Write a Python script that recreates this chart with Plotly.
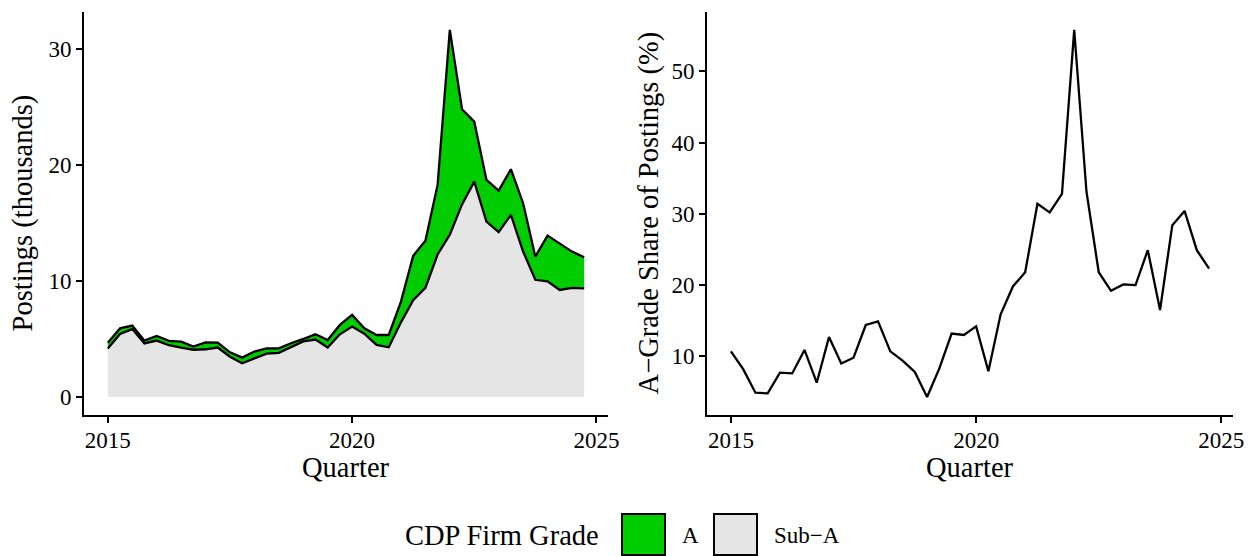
import plotly.graph_objects as go

# ---------------- data ----------------
years = list(range(2015, 2025))
quarter_labels = [f"{y} Q{q}" for y in years for q in (1, 2, 3, 4)]
quarter_x = [y + (q - 1) / 4 for y in years for q in (1, 2, 3, 4)]

# Postings, thousands
sub_a_postings = [
    4.18, 5.43, 5.85, 4.62, 4.86, 4.46, 4.25, 4.07, 4.11, 4.26,
    3.47, 2.90, 3.33, 3.74, 3.80, 4.27, 4.79, 4.95, 4.26, 5.40,
    6.07, 5.45, 4.49, 4.28, 6.43, 8.34, 9.40, 12.28, 13.99, 16.60,
    18.56, 15.12, 14.21, 15.70, 12.54, 10.10, 9.96, 9.22, 9.41, 9.36,
]
a_postings = [
    0.50, 0.49, 0.30, 0.23, 0.40, 0.37, 0.52, 0.27, 0.60, 0.42,
    0.38, 0.49, 0.58, 0.45, 0.39, 0.36, 0.21, 0.45, 0.65, 0.81,
    1.00, 0.47, 0.85, 1.06, 1.79, 3.82, 4.07, 6.00, 17.65, 8.20,
    5.17, 3.59, 3.58, 3.93, 4.16, 2.00, 3.95, 4.03, 3.12, 2.68,
]
# A-grade share of postings, %
a_share = [
    10.7, 8.2, 4.9, 4.8, 7.7, 7.6, 10.9, 6.3, 12.7, 9.0,
    9.8, 14.4, 14.9, 10.7, 9.4, 7.8, 4.3, 8.3, 13.2, 13.0,
    14.2, 7.9, 15.9, 19.8, 21.8, 31.4, 30.2, 32.8, 55.8, 33.1,
    21.8, 19.2, 20.1, 20.0, 24.9, 16.5, 28.4, 30.4, 24.9, 22.3,
]
x_ticks = [2015, 2020, 2025]
left_y_ticks = [0, 10, 20, 30]
right_y_ticks = [10, 20, 30, 40, 50]

# ---------------- layout helpers ----------------
OFF = 8  # page body margin in the browser
W, H = 1253 - OFF, 556 - OFF
FONT = "Liberation Serif, Times New Roman, serif"
GREEN = "#00CD00"
GREY = "#E5E5E5"
LW = 2.3


def fx(px):
    return (px - OFF) / W


def fy(py):
    return 1 - (py - OFF) / H


fig = go.Figure()

fig.add_trace(go.Scatter(
    x=quarter_x, y=sub_a_postings, name="Sub−A", stackgroup="one",
    mode="lines", line=dict(color="black", width=LW), fillcolor=GREY,
    xaxis="x", yaxis="y", showlegend=False, hoveron="points",
))
fig.add_trace(go.Scatter(
    x=quarter_x, y=a_postings, name="A", stackgroup="one",
    mode="lines", line=dict(color="black", width=LW), fillcolor=GREEN,
    xaxis="x", yaxis="y", showlegend=False, hoveron="points",
))
fig.add_trace(go.Scatter(
    x=quarter_x, y=a_share, mode="lines", line=dict(color="black", width=LW),
    xaxis="x2", yaxis="y2", showlegend=False,
))

axis_common = dict(
    showline=True, linecolor="black", linewidth=2,
    ticks="outside", ticklen=6, tickwidth=2, tickcolor="black",
    showgrid=False, zeroline=False, automargin=False,
    tickfont=dict(family=FONT, size=23, color="black"),
)

plot_top, plot_bottom = 11.6, 415.3

fig.update_layout(
    width=W, height=H,
    margin=dict(l=0, r=0, t=0, b=0),
    paper_bgcolor="white", plot_bgcolor="white",
    font=dict(family=FONT, color="black"),
    xaxis=dict(domain=[fx(84), fx(608)], range=[2014.5125, 2025.2375],
               tickvals=x_ticks, anchor="y", ticklabelstandoff=-3, **axis_common),
    yaxis=dict(domain=[fy(plot_bottom), fy(plot_top)], range=[-1.582, 33.22],
               tickvals=left_y_ticks, anchor="x", **axis_common),
    xaxis2=dict(domain=[fx(707), fx(1233)], range=[2014.5125, 2025.2375],
                tickvals=x_ticks, anchor="y2", ticklabelstandoff=-3, **axis_common),
    yaxis2=dict(domain=[fy(plot_bottom), fy(plot_top)], range=[1.725, 58.375],
                tickvals=right_y_ticks, anchor="x2", **axis_common),
)

title_font = dict(family=FONT, size=28.5, color="black")
label_font = dict(family=FONT, size=23, color="black")
mid_y = (plot_top + plot_bottom) / 2

annotations = [
    dict(text="Quarter", x=fx(346), y=fy(467), xref="paper", yref="paper",
         showarrow=False, font=title_font, xanchor="center", yanchor="middle"),
    dict(text="Quarter", x=fx(970), y=fy(467), xref="paper", yref="paper",
         showarrow=False, font=title_font, xanchor="center", yanchor="middle"),
    dict(text="Postings (thousands)", x=fx(23), y=fy(mid_y), xref="paper", yref="paper",
         showarrow=False, font=title_font, textangle=-90,
         xanchor="center", yanchor="middle"),
    dict(text="A−Grade Share of Postings (%)", x=fx(649), y=fy(mid_y),
         xref="paper", yref="paper", showarrow=False, font=title_font,
         textangle=-90, xanchor="center", yanchor="middle"),
    # legend
    dict(text="CDP Firm Grade", x=fx(601), y=fy(535), xref="paper", yref="paper",
         showarrow=False, font=title_font, xanchor="right", yanchor="middle"),
    dict(text="A", x=fx(680), y=fy(535), xref="paper", yref="paper",
         showarrow=False, font=label_font, xanchor="left", yanchor="middle"),
    dict(text="Sub−A", x=fx(772), y=fy(535), xref="paper", yref="paper",
         showarrow=False, font=label_font, xanchor="left", yanchor="middle"),
]

shapes = [
    dict(type="rect", xref="paper", yref="paper",
         x0=fx(622), x1=fx(665), y0=fy(555), y1=fy(514),
         fillcolor=GREEN, line=dict(color="black", width=2)),
    dict(type="rect", xref="paper", yref="paper",
         x0=fx(714), x1=fx(757), y0=fy(555), y1=fy(514),
         fillcolor=GREY, line=dict(color="black", width=2)),
]

fig.update_layout(annotations=annotations, shapes=shapes)

fig.write_html("out.html")
